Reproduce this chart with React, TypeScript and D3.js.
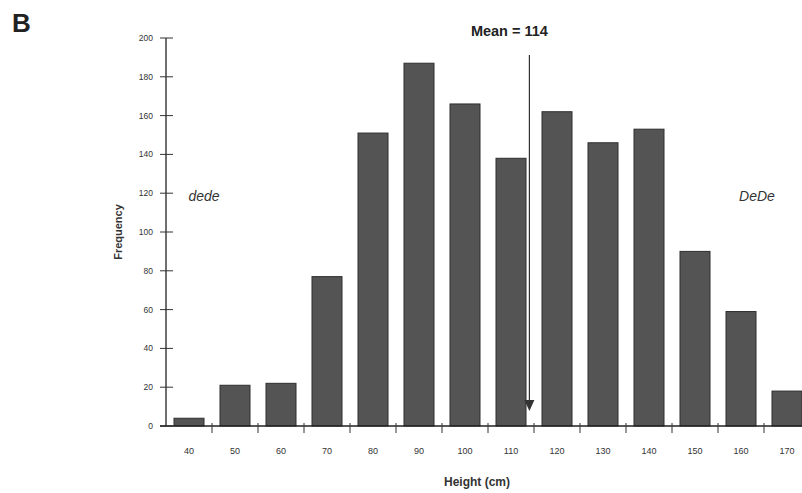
import React, { useEffect, useRef } from 'react';
import * as d3 from 'd3';

// height classes (cm) and counts
const heights = [40, 50, 60, 70, 80, 90, 100, 110, 120, 130, 140, 150, 160, 170];
const counts = [4, 21, 22, 77, 151, 187, 166, 138, 162, 146, 153, 90, 59, 18];
const yTicks = [0, 20, 40, 60, 80, 100, 120, 140, 160, 180, 200];
const meanValue = 114;

export default function App() {
    const svgRef = useRef<SVGSVGElement>(null);
    const width = 802,
        height = 493;

    useEffect(() => {
        const svg = d3.select(svgRef.current);
        svg.selectAll('*').remove();

        const font = 'Liberation Sans, Arial, sans-serif';

        // bars are 10 cm apart, axis starts half a bin left of the first bar
        const x = d3.scaleLinear().domain([35, 175]).range([166, 810]);
        const y = d3.scaleLinear().domain([0, 200]).range([426, 38]);
        const barW = 30;

        // bars
        svg.append('g')
            .selectAll('rect')
            .data(heights)
            .join('rect')
            .attr('x', (d) => x(d) - barW / 2)
            .attr('y', (d, i) => y(counts[i]))
            .attr('width', barW)
            .attr('height', (d, i) => y(0) - y(counts[i]))
            .attr('fill', '#545454')
            .attr('stroke', '#2e2e2e')
            .attr('stroke-width', 1);

        // y axis
        const yAxis = svg.append('g');
        yAxis.append('line')
            .attr('x1', x(35))
            .attr('x2', x(35))
            .attr('y1', y(200))
            .attr('y2', y(0))
            .attr('stroke', '#222')
            .attr('stroke-width', 1.3);
        yAxis.selectAll('.tk')
            .data(yTicks)
            .join('line')
            .attr('x1', x(35) - 6)
            .attr('x2', x(35) + 7)
            .attr('y1', (d) => y(d))
            .attr('y2', (d) => y(d))
            .attr('stroke', '#333')
            .attr('stroke-width', 1);
        yAxis.selectAll('text')
            .data(yTicks)
            .join('text')
            .attr('x', x(35) - 13)
            .attr('y', (d) => y(d))
            .attr('dy', '0.35em')
            .attr('text-anchor', 'end')
            .attr('font-family', font)
            .attr('font-size', 8.5)
            .attr('fill', '#333')
            .text((d) => d);

        // x axis
        const xAxis = svg.append('g');
        xAxis.append('line')
            .attr('x1', x(35) - 6)
            .attr('x2', width)
            .attr('y1', y(0))
            .attr('y2', y(0))
            .attr('stroke', '#222')
            .attr('stroke-width', 1.3);
        xAxis.selectAll('.tk')
            .data(heights.map((d) => d + 5))
            .join('line')
            .attr('x1', (d) => x(d))
            .attr('x2', (d) => x(d))
            .attr('y1', y(0) - 3)
            .attr('y2', y(0) + 7)
            .attr('stroke', '#333')
            .attr('stroke-width', 1);
        xAxis.selectAll('text')
            .data(heights)
            .join('text')
            .attr('x', (d) => x(d))
            .attr('y', 454)
            .attr('text-anchor', 'middle')
            .attr('font-family', font)
            .attr('font-size', 9)
            .attr('fill', '#333')
            .text((d) => d);

        // axis titles
        svg.append('text')
            .attr('x', 477)
            .attr('y', 486)
            .attr('text-anchor', 'middle')
            .attr('font-family', font)
            .attr('font-size', 12)
            .attr('font-weight', 'bold')
            .attr('fill', '#333')
            .text('Height (cm)');
        svg.append('text')
            .attr('transform', 'translate(122, 232) rotate(-90)')
            .attr('text-anchor', 'middle')
            .attr('font-family', font)
            .attr('font-size', 11)
            .attr('font-weight', 'bold')
            .attr('fill', '#333')
            .text('Frequency');

        // mean arrow
        const mx = x(meanValue);
        svg.append('line')
            .attr('x1', mx)
            .attr('x2', mx)
            .attr('y1', 55)
            .attr('y2', 403)
            .attr('stroke', '#333')
            .attr('stroke-width', 1.2);
        svg.append('path')
            .attr('d', `M${mx - 5},400 L${mx + 5},400 L${mx},411 Z`)
            .attr('fill', '#333');
        svg.append('text')
            .attr('x', mx - 20)
            .attr('y', 36)
            .attr('text-anchor', 'middle')
            .attr('font-family', font)
            .attr('font-size', 14.5)
            .attr('font-weight', 'bold')
            .attr('fill', '#222')
            .text(`Mean = ${meanValue}`);

        // genotype labels
        svg.append('text')
            .attr('x', 204)
            .attr('y', 201)
            .attr('text-anchor', 'middle')
            .attr('font-family', font)
            .attr('font-size', 14)
            .attr('font-style', 'italic')
            .attr('fill', '#333')
            .text('dede');
        svg.append('text')
            .attr('x', 757)
            .attr('y', 201)
            .attr('text-anchor', 'middle')
            .attr('font-family', font)
            .attr('font-size', 14)
            .attr('font-style', 'italic')
            .attr('fill', '#333')
            .text('DeDe');

        // panel letter
        svg.append('text')
            .attr('x', 12)
            .attr('y', 32)
            .attr('font-family', font)
            .attr('font-size', 26)
            .attr('font-weight', 'bold')
            .attr('fill', '#222')
            .text('B');
    }, []);

    return (
        <div style={{ position: 'absolute', left: 0, top: 0 }}>
            <svg ref={svgRef} width={width} height={height} style={{ display: 'block', background: '#fff' }} />
        </div>
    );
}
